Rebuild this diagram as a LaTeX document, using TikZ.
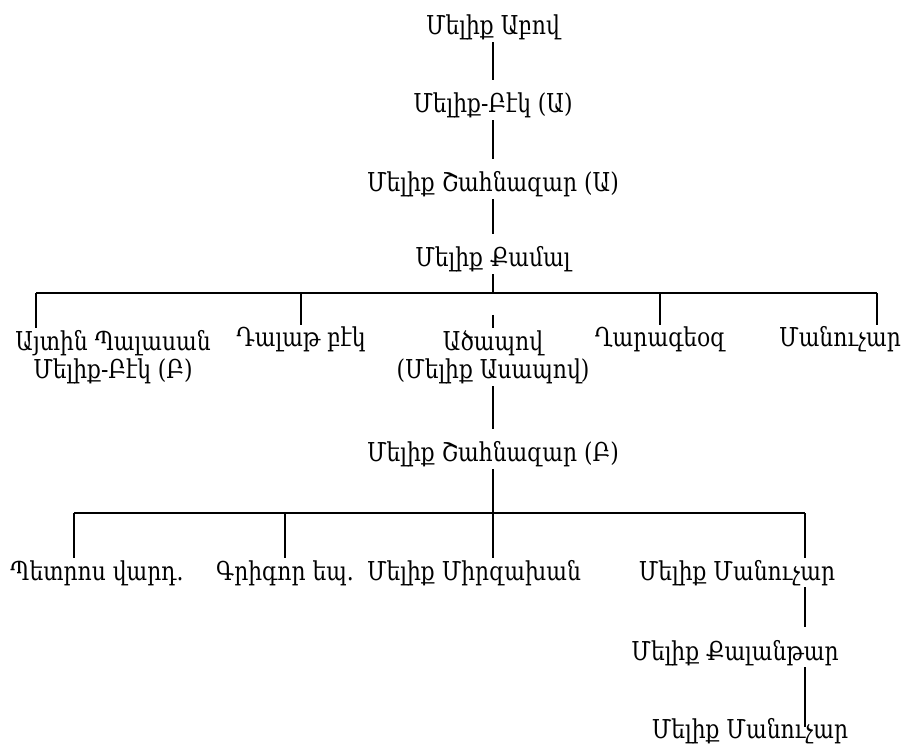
\documentclass[tikz,border=0pt]{standalone}
\usepackage{fontspec}
\newfontfamily\armfont[FakeStretch=0.84]{DejaVu Serif}
\usepackage{tikz}

\begin{document}
\begin{tikzpicture}[
  x=0.5pt, y=-0.5pt,
  font=\armfont\fontsize{13}{14}\selectfont,
  n/.style={anchor=base, inner sep=0pt, text height=16.5pt, text depth=3.5pt},
  kid/.style={anchor=base, inner sep=0pt, text height=11pt, text depth=3.5pt},
  two/.style={anchor=north, align=center, inner sep=1pt},
  ln/.style={line width=1pt}
]
\useasboundingbox (0,0) rectangle (908,747);
% main line
\node[n] (abov) at (493,35) {Մելիք Աբով};
\node[n] (bek1) at (493,113) {Մելիք-Բէկ (Ա)};
\node[n] (shah1) at (493,192) {Մելիք Շահնազար (Ա)};
\node[n] (kamal) at (493,267) {Մելիք Քամալ};
\draw[ln] (abov) -- (bek1);
\draw[ln] (bek1) -- (shah1);
\draw[ln] (shah1) -- (kamal);
% children of Kamal
\coordinate (b1w) at (36,293);
\coordinate (b1e) at (877,293);
\coordinate (stub) at (493,315);
\node[two] (aytin) at (113,328) {Այտին Պալասան\\Մելիք-Բէկ (Բ)};
\node[kid] (dalat) at (301,347) {Դալաթ բէկ};
\node[two] (adzapov) at (493,328) {Ածապով\\(Մելիք Ասապով)};
\node[kid] (ghara) at (660,347) {Ղարագեօզ};
\node[kid] (manuchar1) at (840,347) {Մանուչար};
\draw[ln] (kamal) -- (kamal |- b1w);
\draw[ln] (b1w) -- (b1e);
\draw[ln] (b1w) -- (b1w |- aytin.north);
\draw[ln] (dalat) -- (dalat |- b1w);
\draw[ln] (stub) -- (adzapov);
\draw[ln] (ghara) -- (ghara |- b1w);
\draw[ln] (b1e) -- (b1e |- manuchar1.north);
% Shahnazar II and children
\node[n] (shah2) at (493,462) {Մելիք Շահնազար (Բ)};
\draw[ln] (adzapov) -- (shah2);
\coordinate (b2w) at (74,513);
\coordinate (b2e) at (805,513);
\node[kid] (petros) at (97,580) {Պետրոս վարդ.};
\node[kid] (grigor) at (285,580) {Գրիգոր եպ.};
\node[kid] (mirza) at (474,580) {Մելիք Միրզախան};
\node[kid] (manuchar2) at (737,580) {Մելիք Մանուչար};
\draw[ln] (b2w) -- (b2e);
\draw[ln] (shah2) -- (shah2 |- mirza.north);
\draw[ln] (b2w) -- (b2w |- petros.north);
\draw[ln] (grigor) -- (grigor |- b2w);
\draw[ln] (b2e) -- (b2e |- manuchar2.north);
% last line
\node[n] (kalan) at (735,660) {Մելիք Քալանթար};
\node[kid, text height=5.5pt] (manuchar3) at (750,738) {Մելիք Մանուչար};
\draw[ln] (b2e |- manuchar2.south) -- (b2e |- kalan.north);
\draw[ln] (b2e |- kalan.south) -- (b2e |- manuchar3.north);
\end{tikzpicture}
\end{document}
